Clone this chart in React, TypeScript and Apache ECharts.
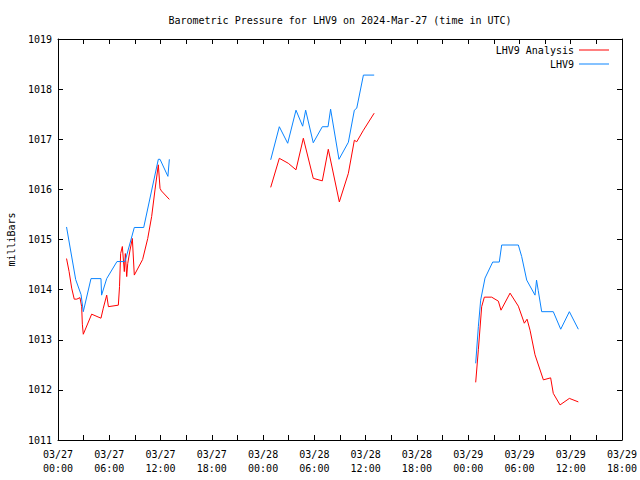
import React, { useEffect, useRef } from "react";
import * as echarts from "echarts";

// hours since 2024-03-27 00:00 UTC
const analysisSeg1Hours = [1.0, 1.3, 1.6, 1.9, 2.2, 2.57, 2.77, 2.85, 2.96, 3.94, 5.03, 5.3, 5.7, 5.9, 7.06, 7.2, 7.33, 7.53, 7.76, 7.88, 8.04, 8.16, 8.43, 8.7, 8.93, 9.9, 10.5, 10.96, 11.35, 11.74, 11.94, 12.1, 13.03];
const analysisSeg1Values = [1014.62, 1014.36, 1014.03, 1013.81, 1013.81, 1013.84, 1013.66, 1013.31, 1013.11, 1013.51, 1013.43, 1013.63, 1013.89, 1013.66, 1013.69, 1014.06, 1014.72, 1014.86, 1014.36, 1014.72, 1014.26, 1014.52, 1014.79, 1015.02, 1014.29, 1014.6, 1015.02, 1015.46, 1015.99, 1016.49, 1016.02, 1015.97, 1015.8];
const analysisSeg2Hours = [24.89, 25.9, 26.95, 27.85, 28.71, 29.87, 30.93, 31.63, 32.92, 33.98, 34.68, 34.96, 35.74, 37.0];
const analysisSeg2Values = [1016.04, 1016.62, 1016.52, 1016.39, 1017.02, 1016.22, 1016.17, 1016.8, 1015.75, 1016.32, 1016.98, 1016.95, 1017.18, 1017.52];
const analysisSeg3Hours = [48.88, 49.19, 49.58, 49.89, 50.75, 51.53, 51.84, 52.9, 53.87, 54.57, 54.89, 55.24, 55.82, 56.8, 57.65, 57.96, 58.75, 59.84, 60.89];
const analysisSeg3Values = [1012.15, 1012.8, 1013.66, 1013.85, 1013.85, 1013.77, 1013.59, 1013.93, 1013.67, 1013.33, 1013.41, 1013.19, 1012.7, 1012.2, 1012.24, 1011.93, 1011.7, 1011.83, 1011.76];

const obsSeg1Hours = [1.0, 2.07, 2.7, 2.96, 3.86, 5.03, 5.1, 5.7, 6.9, 7.84, 8.93, 10.03, 11.74, 11.94, 12.86, 13.03];
const obsSeg1Values = [1015.25, 1014.2, 1013.9, 1013.56, 1014.22, 1014.22, 1013.89, 1014.22, 1014.56, 1014.56, 1015.24, 1015.24, 1016.6, 1016.6, 1016.26, 1016.6];
const obsSeg2Hours = [24.89, 25.9, 26.88, 27.85, 28.63, 28.98, 29.87, 30.93, 31.6, 31.9, 32.88, 33.98, 34.68, 34.96, 35.74, 37.0];
const obsSeg2Values = [1016.59, 1017.25, 1016.92, 1017.58, 1017.26, 1017.58, 1016.93, 1017.25, 1017.25, 1017.6, 1016.6, 1016.94, 1017.58, 1017.62, 1018.28, 1018.28];
const obsSeg3Hours = [48.88, 49.19, 49.46, 49.97, 50.87, 51.64, 51.92, 53.87, 54.26, 54.85, 55.82, 56.0, 56.2, 56.6, 57.96, 58.83, 59.84, 60.89];
const obsSeg3Values = [1012.53, 1013.26, 1013.79, 1014.23, 1014.55, 1014.55, 1014.89, 1014.89, 1014.66, 1014.19, 1013.89, 1014.19, 1013.98, 1013.56, 1013.56, 1013.21, 1013.56, 1013.21];

const seriesNames = ["LHV9 Analysis", "LHV9"];
const titleText = "Barometric Pressure for LHV9 on 2024-Mar-27 (time in UTC)";
const yAxisName = "milliBars";

const FONT = "DejaVu Sans Mono";

function join(segs: [number[], number[]][]) {
  const out: any[] = [];
  segs.forEach(([h, v], i) => {
    if (i > 0) out.push([h[0] - 0.5, null]);
    h.forEach((x, k) => out.push([x, v[k]]));
  });
  return out;
}

function xLabel(v: number) {
  if (v % 6 !== 0) return "";
  const day = 27 + Math.floor(v / 24);
  const hr = v % 24;
  return `03/${day}\n${String(hr).padStart(2, "0")}:00`;
}

export default function App() {
  const ref = useRef<HTMLDivElement>(null);
  useEffect(() => {
    const chart = echarts.init(ref.current!, null, { renderer: "svg" });
    const tick = { show: true, inside: true, length: 5, lineStyle: { color: "#000" } };
    const line = { show: true, onZero: false, lineStyle: { color: "#000", width: 1 } };
    chart.setOption({
      animation: false,
      backgroundColor: "#fff",
      grid: { left: 58, right: 18, top: 39, bottom: 40, containLabel: false, outerBoundsMode: "none" },
      graphic: [
        {
          type: "text",
          x: 340,
          y: 20,
          style: { text: titleText, font: `10px "${FONT}"`, fill: "#000", textAlign: "center", textVerticalAlign: "middle" },
        },
      ],
      legend: {
        data: seriesNames,
        orient: "vertical",
        right: 26,
        top: 40,
        align: "right",
        icon: "rect",
        itemWidth: 30,
        itemHeight: 1,
        itemGap: 4,
        textStyle: { fontFamily: FONT, fontSize: 10, color: "#000" },
      },
      xAxis: [
        {
          type: "value",
          position: "bottom",
          min: 0,
          max: 66,
          interval: 3,
          axisLine: line,
          axisTick: tick,
          splitLine: { show: false },
          axisLabel: { formatter: xLabel, fontFamily: FONT, fontSize: 10, color: "#000", margin: 7, lineHeight: 14 },
        },
        {
          type: "value",
          position: "top",
          min: 0,
          max: 66,
          interval: 3,
          axisLine: line,
          axisTick: tick,
          splitLine: { show: false },
          axisLabel: { show: false },
        },
      ],
      yAxis: [
        {
          type: "value",
          position: "left",
          min: 1011,
          max: 1019,
          interval: 1,
          axisLine: line,
          axisTick: tick,
          splitLine: { show: false },
          axisLabel: { formatter: (v: number) => String(v), fontFamily: FONT, fontSize: 10, color: "#000", margin: 6 },
          name: yAxisName,
          nameLocation: "middle",
          nameRotate: 90,
          nameGap: 42,
          nameTextStyle: { fontFamily: FONT, fontSize: 10, color: "#000" },
        },
        {
          type: "value",
          position: "right",
          min: 1011,
          max: 1019,
          interval: 1,
          axisLine: line,
          axisTick: tick,
          splitLine: { show: false },
          axisLabel: { show: false },
        },
      ],
      series: [
        {
          name: seriesNames[0],
          type: "line",
          symbol: "none",
          connectNulls: false,
          color: "#ff0000",
          lineStyle: { width: 1, color: "#ff0000" },
          data: join([
            [analysisSeg1Hours, analysisSeg1Values],
            [analysisSeg2Hours, analysisSeg2Values],
            [analysisSeg3Hours, analysisSeg3Values],
          ]),
        },
        {
          name: seriesNames[1],
          type: "line",
          symbol: "none",
          connectNulls: false,
          color: "#0a84ff",
          lineStyle: { width: 1, color: "#0a84ff" },
          data: join([
            [obsSeg1Hours, obsSeg1Values],
            [obsSeg2Hours, obsSeg2Values],
            [obsSeg3Hours, obsSeg3Values],
          ]),
        },
      ],
    });
    return () => chart.dispose();
  }, []);
  return <div ref={ref} style={{ position: "absolute", left: 0, top: 0, width: 640, height: 480 }} />;
}
